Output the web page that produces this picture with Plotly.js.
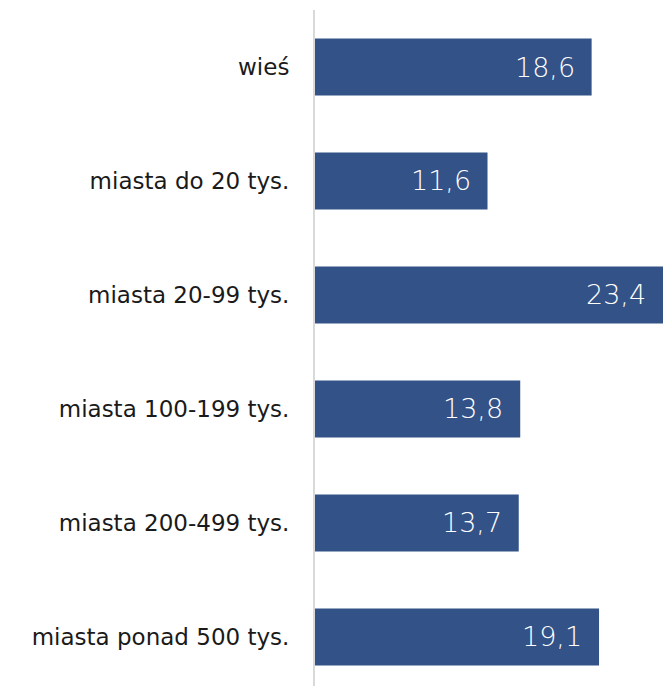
<!DOCTYPE html>
<html>
<head>
<meta charset="utf-8">
<script src="https://cdn.plot.ly/plotly-3.0.1.min.js"></script>
<style>
  html, body { margin: 0; padding: 0; background: #ffffff; }
  #chart { width: 663px; height: 686px; }
</style>
</head>
<body>
<div id="chart"></div>
<script>
// Settlement size categories and their values
const categories = [
  "wieś",
  "miasta do 20 tys.",
  "miasta 20-99 tys.",
  "miasta 100-199 tys.",
  "miasta 200-499 tys.",
  "miasta ponad 500 tys."
];
const values = [18.6, 11.6, 23.4, 13.8, 13.7, 19.1];

const fontFamily = "'DejaVu Sans', 'Noto Sans', sans-serif";
const barColor = "#335288";

const fmt = v => v.toFixed(1).replace(".", ",");

const trace = {
  type: "bar",
  orientation: "h",
  x: values,
  y: categories,
  marker: { color: barColor, line: { width: 0 } },
  width: 0.5,
  hoverinfo: "skip"
};

// Value labels sit inside the bar end, in white
const annotations = values.map((v, i) => ({
  x: v,
  y: categories[i],
  xref: "x",
  yref: "y",
  text: fmt(v),
  showarrow: false,
  xanchor: "right",
  yanchor: "middle",
  xshift: -15,
  font: { family: fontFamily, size: 27, weight: 300, color: "#ffffff" }
}));

const layout = {
  width: 663,
  height: 686,
  margin: { l: 315, r: 0, t: 10, b: 0 },
  paper_bgcolor: "#ffffff",
  plot_bgcolor: "#ffffff",
  showlegend: false,
  xaxis: {
    range: [0, 23.4],
    showgrid: false,
    zeroline: false,
    showticklabels: false,
    showline: false,
    fixedrange: true
  },
  yaxis: {
    type: "category",
    categoryorder: "array",
    categoryarray: categories,
    range: [5.43, -0.5],
    showgrid: false,
    zeroline: false,
    showline: true,
    linecolor: "#d9d9d9",
    linewidth: 2,
    ticks: "",
    ticklabelstandoff: 19,
    tickfont: { family: fontFamily, size: 23, color: "#1a1a1a" },
    fixedrange: true
  },
  annotations: annotations
};

Plotly.newPlot("chart", [trace], layout, { displayModeBar: false, staticPlot: true });
</script>
</body>
</html>
